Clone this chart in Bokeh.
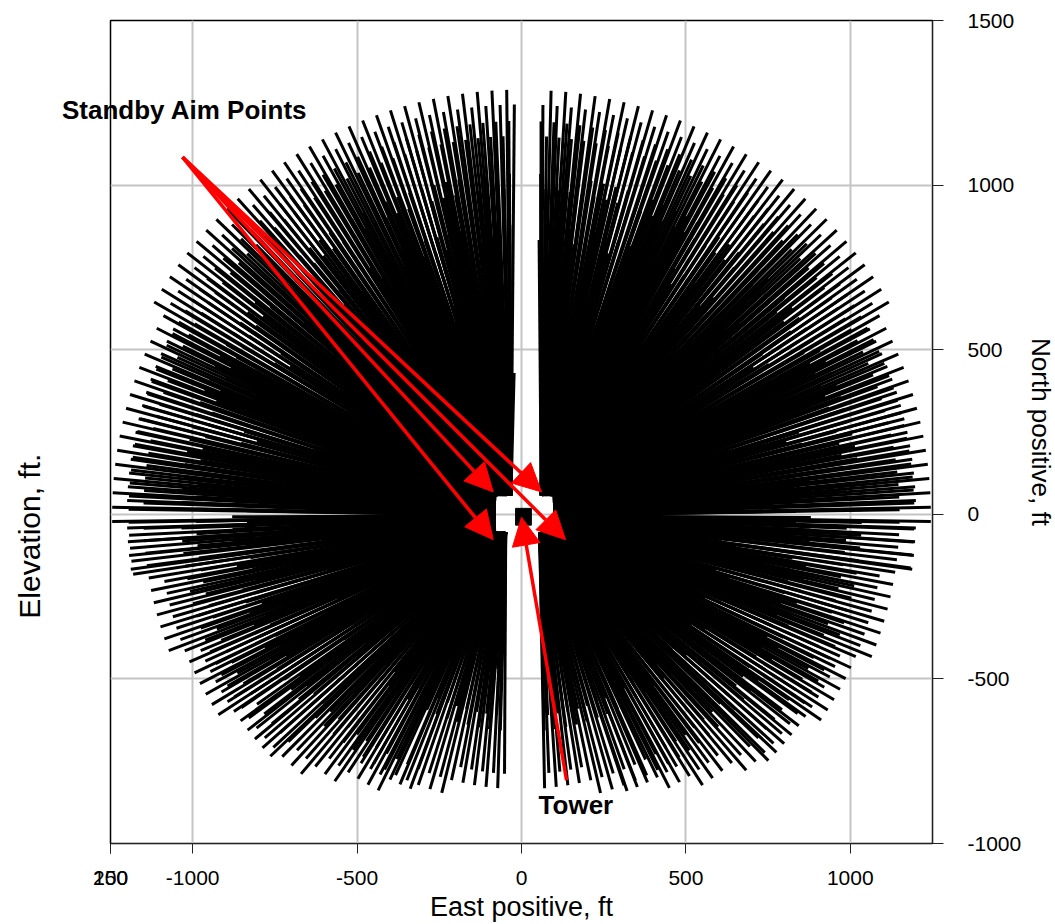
import numpy as np
from bokeh.plotting import figure
from bokeh.models import (Range1d, FixedTicker, Label, Arrow, NormalHead, ColumnDataSource,
                          LinearAxis, AllLabels)
from bokeh.embed import file_html
from bokeh.resources import INLINE

# ---------------- data ----------------
# heliostat field outline: azimuth from north (deg, east positive) -> outer radius (ft)
outline_az = [0, 20, 40, 60, 75, 85, 90, 95, 100, 110, 120, 130, 140, 150, 160, 170, 180]
outline_r = [1320, 1315, 1315, 1290, 1280, 1262, 1250, 1230, 1190, 1160, 1125, 1085, 1040, 970, 900, 865, 860]
# radial-stagger zones: inner radius, outer radius (ft), azimuth spacing (deg)
zone_r_in = [250, 480, 700, 900, 1060, 1200]
zone_r_out = [480, 700, 900, 1060, 1200, 1340]
zone_daz = [3.4, 2.9, 2.45, 2.15, 1.9, 2.0]
row_step = 45
# access lanes without heliostats (ft)
north_lane = [-20, 52]
south_lane = [-48, 55]
east_west_lane = 6
# tower footprint and clear zone around it (ft)
tower_x = [-18, 30]
tower_y = [-33, 18]
clear_x = [-79, 97]
clear_y = [-55, 58]
tower_center = [8, -4]
# annotation arrows (ft)
standby_from = [-1031, 1085]
standby_x = [-86, 61, -86, 134]
standby_y = [68, 68, -77, -77]
tower_from = [137, -808]
tower_to = [0, -9]
# axes
x_ticks = [-1250, -1249.5, -1000, -500, 0, 500, 1000]
x_labels = {-1250: "250", -1249.5: "100", -1000: "-1000", -500: "-500"}
y_ticks = [-1000, -500, 0, 500, 1000, 1500]
y_labels = {-1000: "-1000", -500: "-500"}
standby_text_y = 1227

# ---------------- build heliostat aim lines ----------------
def outline(az):
    return np.interp(abs(az), outline_az, outline_r)

cx, cy = tower_center
x0s, y0s, x1s, y1s = [], [], [], []
for rin, rout, daz in zip(zone_r_in, zone_r_out, zone_daz):
    rows = np.arange(rin, rout, row_step)
    n = int(round(360 / daz))
    for parity in (0, 1):
        rr = rows[parity::2]
        for k in range(n):
            az = ((k + 0.5 * parity) * daz + 180.0) % 360.0 - 180.0
            cand = rr[rr <= outline(az)]
            if len(cand) == 0:
                continue
            r = cand.max()
            a = np.radians(az)
            x, y = r * np.sin(a), r * np.cos(a)
            if y > 0 and north_lane[0] < x < north_lane[1]:
                continue
            if y < 0 and south_lane[0] < x < south_lane[1]:
                continue
            if abs(y) < east_west_lane:
                continue
            dx, dy = cx - x, cy - y
            tx = 0.0
            if x < clear_x[0]:
                tx = (clear_x[0] - x) / dx
            elif x > clear_x[1]:
                tx = (clear_x[1] - x) / dx
            ty = 0.0
            if y < clear_y[0]:
                ty = (clear_y[0] - y) / dy
            elif y > clear_y[1]:
                ty = (clear_y[1] - y) / dy
            t = max(tx, ty)
            ex, ey = x + t * dx, y + t * dy
            # lines beside the access lanes stay beside them
            if y > 0 and x <= north_lane[0]:
                ex = min(ex, north_lane[0] - 12)
            if y > 0 and x >= north_lane[1]:
                ex = max(ex, north_lane[1] + 8)
            if y < 0 and x <= south_lane[0]:
                ex = min(ex, south_lane[0])
            if y < 0 and x >= south_lane[1]:
                ex = max(ex, south_lane[1])
            x0s.append(x)
            y0s.append(y)
            x1s.append(ex)
            y1s.append(ey)

src = ColumnDataSource(dict(x0=x0s, y0=y0s, x1=x1s, y1=y1s))

# ---------------- figure ----------------
FONT = "Liberation Sans"
p = figure(frame_width=822, frame_height=823,
           x_range=Range1d(-1250, 1250), y_range=Range1d(-1000, 1500),
           y_axis_location="right", output_backend="svg", toolbar_location=None,
           min_border_left=110, min_border_top=20, min_border_right=2, min_border_bottom=2)
p.background_fill_color = "white"
p.border_fill_color = "white"
p.outline_line_color = "black"
p.outline_line_width = 1.5

for ax in (p.xaxis[0], p.yaxis[0]):
    ax.major_label_text_font = FONT
    ax.major_label_text_font_size = "21px"
    ax.major_label_text_color = "black"
    ax.major_label_policy = AllLabels()
    ax.axis_label_text_font = FONT
    ax.axis_label_text_font_size = "27px"
    ax.axis_label_text_font_style = "normal"
    ax.axis_label_text_color = "black"
    ax.major_tick_in = 0
    ax.minor_tick_in = 0
    ax.minor_tick_out = 0
    ax.axis_line_color = "#222222"
    ax.major_tick_line_color = "#222222"

p.xaxis.ticker = FixedTicker(ticks=x_ticks)
p.xaxis.major_label_overrides = x_labels
p.xaxis.major_tick_out = 10
p.xaxis.major_label_standoff = 17
p.xaxis.axis_label = "East positive, ft"
p.xaxis.axis_label_standoff = 4

p.yaxis.ticker = FixedTicker(ticks=y_ticks)
p.yaxis.major_label_overrides = y_labels
p.yaxis.major_tick_out = 11
p.yaxis.major_label_standoff = 24
p.yaxis.axis_label = "North positive, ft"
p.yaxis.axis_label_text_font_size = "26px"
p.yaxis.axis_label_standoff = 2

# left "Elevation" axis; its one label is the "Standby Aim Points" note
elev_axis = LinearAxis(ticker=FixedTicker(ticks=[standby_text_y]),
                       major_label_overrides={standby_text_y: "Standby Aim Points"},
                       major_label_text_font=FONT, major_label_text_font_size="26px",
                       major_label_text_font_style="bold", major_label_text_color="black",
                       major_label_standoff=-197, major_label_policy=AllLabels(),
                       axis_label="Elevation, ft." + "\u00a0" * 25,
                       axis_label_text_font=FONT, axis_label_text_font_size="30px",
                       axis_label_text_font_style="normal", axis_label_text_color="black",
                       axis_label_standoff=13, axis_line_alpha=0,
                       major_tick_out=0, major_tick_in=0, minor_tick_out=0, minor_tick_in=0)
p.add_layout(elev_axis, "left")

p.xgrid.ticker = FixedTicker(ticks=[-1000, -500, 0, 500, 1000])
p.ygrid.ticker = FixedTicker(ticks=[-500, 0, 500, 1000])
for g in (p.xgrid[0], p.ygrid[0]):
    g.grid_line_color = "#c4c4c4"
    g.grid_line_width = 2

# heliostat lines
p.segment("x0", "y0", "x1", "y1", source=src, line_color="black", line_width=3)
# tower
p.quad(left=[tower_x[0]], right=[tower_x[1]], bottom=[tower_y[0]], top=[tower_y[1]],
       fill_color="black", line_color="black")

# red arrows
for ex, ey in zip(standby_x, standby_y):
    p.add_layout(Arrow(end=NormalHead(size=28, fill_color="red", line_color="red"),
                       x_start=standby_from[0], y_start=standby_from[1], x_end=ex, y_end=ey,
                       line_color="red", line_width=3.5))
p.add_layout(Arrow(end=NormalHead(size=28, fill_color="red", line_color="red"),
                   x_start=tower_from[0], y_start=tower_from[1], x_end=tower_to[0], y_end=tower_to[1],
                   line_color="red", line_width=3.5))

p.add_layout(Label(x=52, y=-884, text="Tower", text_font=FONT,
                   text_font_size="26px", text_font_style="bold", text_baseline="middle",
                   text_color="black"))

open("out.html", "w").write(file_html(p, INLINE))
